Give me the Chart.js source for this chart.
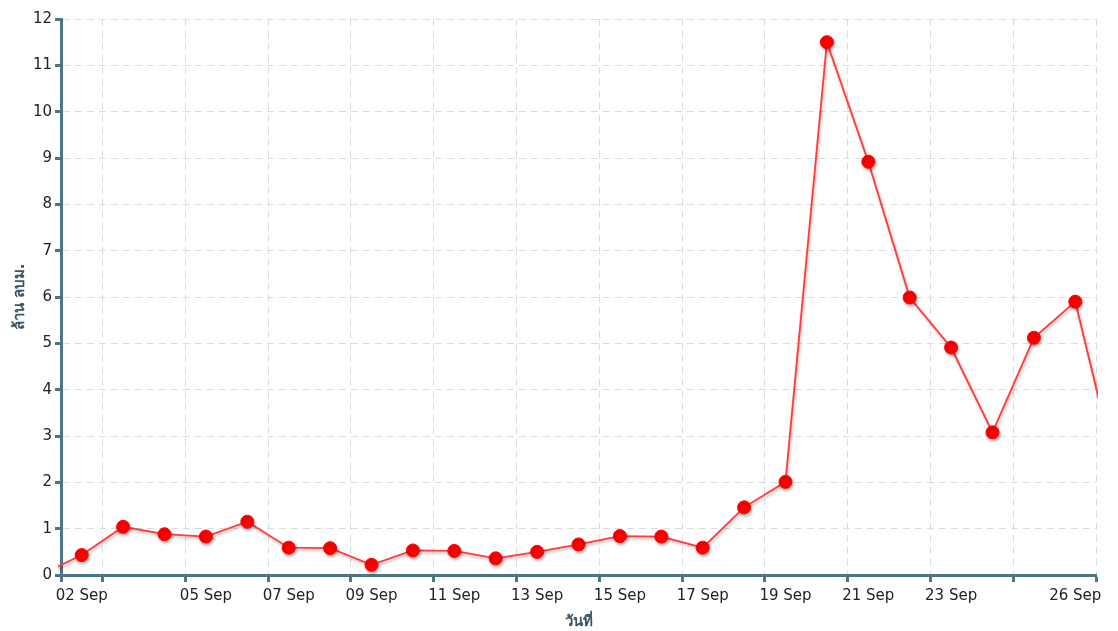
<!DOCTYPE html>
<html>
<head>
<meta charset="utf-8">
<script src="https://cdn.jsdelivr.net/npm/chart.js@4.4.0/dist/chart.umd.min.js"></script>
<style>
  body { margin: 0; background: #fff; }
  #wrap { width: 1118px; height: 631px; }
</style>
</head>
<body>
<div id="wrap"><canvas id="volChart" width="1118" height="631"></canvas></div>
<script>
// day of September, one reading per day (plotted at noon)
const days = [1, 2, 3, 4, 5, 6, 7, 8, 9, 10, 11, 12, 13, 14, 15, 16, 17, 18, 19, 20, 21, 22, 23, 24, 25, 26, 27];
const volumes = [0.0, 0.43, 1.04, 0.88, 0.83, 1.15, 0.59, 0.58, 0.22, 0.53, 0.52, 0.36, 0.50, 0.66, 0.84, 0.83, 0.59, 1.46, 2.01, 11.50, 8.92, 5.99, 4.91, 3.08, 5.12, 5.90, 2.2];

// axis ticks (day boundaries) and the date labels shown under them
const gridDays = [2, 3, 5, 7, 9, 11, 13, 15, 17, 19, 21, 23, 25, 27];
const labelDays = [2, 5, 7, 9, 11, 13, 15, 17, 19, 21, 23, 26];
const dayLabels = ['02 Sep', '05 Sep', '07 Sep', '09 Sep', '11 Sep', '13 Sep', '15 Sep', '17 Sep', '19 Sep', '21 Sep', '23 Sep', '26 Sep'];

const axisColor = '#4e7584';
const gridColor = '#d6dee3';
const font = 'DejaVu Sans, Verdana, sans-serif';

const shadowPlugin = {
  id: 'shadow',
  beforeDatasetDraw(chart) {
    const c = chart.ctx;
    c.save();
    c.shadowColor = 'rgba(0,0,0,0.3)';
    c.shadowBlur = 3;
    c.shadowOffsetX = 1;
    c.shadowOffsetY = 2;
  },
  afterDatasetDraw(chart) {
    chart.ctx.restore();
  }
};

const ctx = document.getElementById('volChart').getContext('2d');
const volChart = new Chart(ctx, {
  type: 'line',
  data: {
    datasets: [{
      label: 'ล้าน ลบม.',
      data: days.map((d, i) => ({ x: d + 0.5, y: volumes[i] })),
      borderColor: '#ff3b3b',
      borderWidth: 1.8,
      pointBackgroundColor: '#ff0000',
      pointBorderColor: '#ff0000',
      pointRadius: 6.5,
      pointBorderWidth: 1,
      tension: 0,
      clip: { left: 3, right: 2, top: 10, bottom: 10 }
    }]
  },
  plugins: [shadowPlugin],
  options: {
    responsive: false,
    animation: false,
    layout: { padding: { top: 19, right: 22, left: 0, bottom: 0 } },
    plugins: {
      legend: { display: false },
      tooltip: { enabled: false }
    },
    scales: {
      x: {
        type: 'linear',
        position: 'bottom',
        min: 2,
        max: 27,
        afterBuildTicks: s => { s.ticks = gridDays.map(v => ({ value: v })); },
        ticks: { display: false },
        grid: { color: gridColor, tickColor: axisColor, tickLength: 7, tickWidth: 3 },
        border: { color: axisColor, width: 3, dash: [7, 5] }
      },
      x2: {
        type: 'linear',
        position: 'bottom',
        min: 2,
        max: 27,
        afterBuildTicks: s => { s.ticks = labelDays.map(v => ({ value: v + 0.5 })); },
        ticks: {
          autoSkip: false,
          maxRotation: 0,
          padding: 5,
          color: '#222',
          font: { family: font, size: 15 },
          callback: (v, i) => dayLabels[i]
        },
        grid: { display: false, drawTicks: false },
        border: { display: false },
        title: {
          display: true,
          text: 'วันที่',
          color: '#3b5566',
          font: { family: font, size: 15, weight: 'bold' },
          padding: { top: 3, bottom: 0 }
        }
      },
      y: {
        min: 0,
        max: 12,
        afterFit: s => { s.width = 61; },
        ticks: {
          stepSize: 1,
          padding: 3,
          color: '#222',
          font: { family: font, size: 15 }
        },
        grid: { color: gridColor, tickColor: axisColor, tickLength: 6, tickWidth: 3 },
        border: { color: axisColor, width: 3, dash: [7, 5] },
        title: {
          display: true,
          text: 'ล้าน ลบม.',
          color: '#3b5566',
          font: { family: font, size: 15, weight: 'bold' },
          padding: { top: 11, bottom: 0 }
        }
      }
    }
  }
});
</script>
</body>
</html>
